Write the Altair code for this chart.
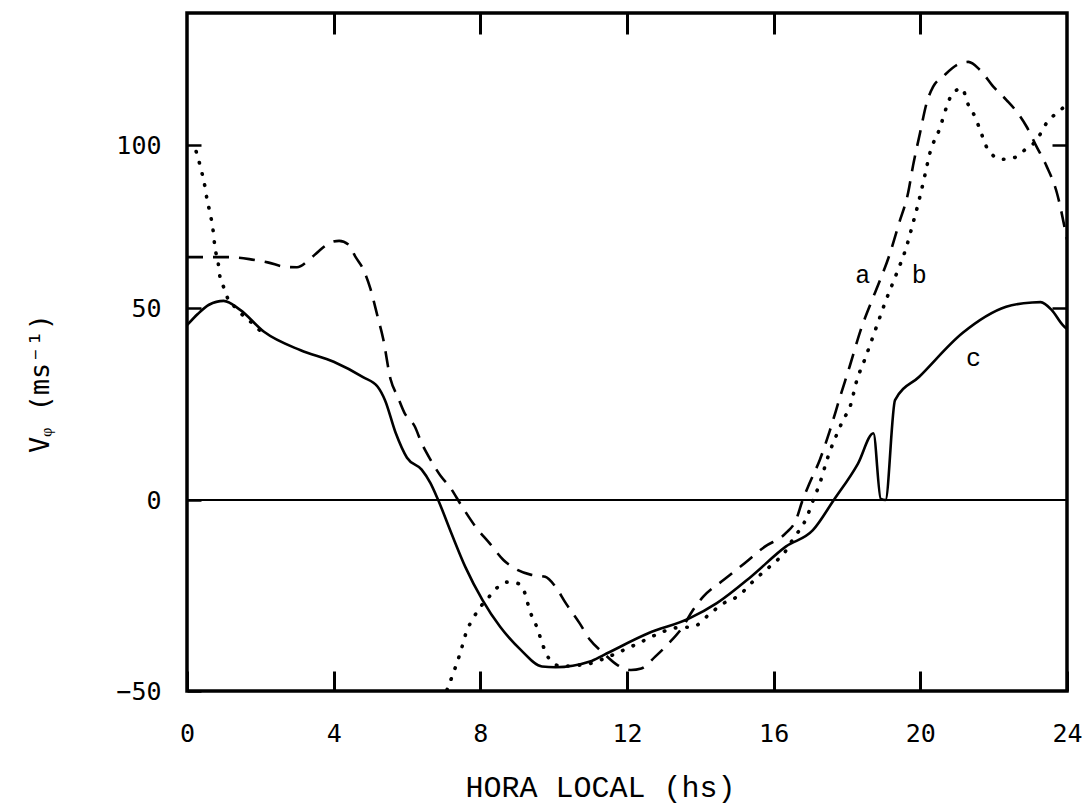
import altair as alt
import pandas as pd

# ---- data ----
# curve c (solid)
hora_c = [0.0, 0.3, 0.6, 1.0, 1.45, 2.1, 3.1, 4.0, 4.8, 5.2, 5.4, 5.69, 6.0, 6.4, 6.64, 6.85,
          7.21, 7.59, 8.06, 8.54, 9.11, 9.68, 10.05, 10.99, 11.36, 12.58, 13.7, 14.45, 15.39,
          16.33, 17.07, 17.64, 18.3, 18.72, 18.92, 19.05, 19.31, 19.97, 21.15, 22.34, 23.05,
          23.28, 23.58, 23.88, 24.0]
v_c = [45.5, 48.5, 51.0, 52.2, 49.5, 43.8, 39.0, 36.0, 32.0, 29.5, 26.0, 17.5, 11.0, 7.9, 4.4, 0.0,
       -8.7, -17.5, -26.2, -33.2, -39.3, -43.6, -43.8, -42.3, -40.6, -34.9, -31.0, -27.0, -20.0,
       -12.2, -7.9, 0.0, 9.5, 17.4, 0.3, 0.0, 26.0, 32.1, 43.5, 50.4, 51.7,
       51.8, 49.5, 45.6, 44.5]

# curve a (dashed)
hora_a = [0.0, 1.1, 1.7, 2.2, 2.7, 3.0, 3.3, 3.6, 3.9, 4.15, 4.4, 4.6, 4.8, 5.0, 5.2, 5.35, 5.55,
          5.75, 5.93, 6.21, 6.4, 6.64, 6.93, 7.16, 7.5, 7.87, 8.25, 8.63, 9.01, 9.39, 9.77,
          10.05, 10.33, 10.71, 10.99, 11.36, 11.74, 12.11, 12.39, 12.77, 13.14, 13.52, 13.8,
          14.08, 14.64, 15.2, 15.76, 16.33, 16.61, 16.79, 16.98, 17.26, 17.53, 17.81, 18.07,
          18.4, 18.65, 18.9, 19.15, 19.42, 19.67, 19.8, 19.99, 20.17, 20.35, 20.62, 20.99,
          21.31, 21.63, 21.99, 22.35, 22.63, 22.9, 23.17, 23.44, 23.72, 24.0]
v_a = [65.6, 65.6, 65.0, 64.0, 62.6, 62.5, 64.5, 67.5, 70.0, 70.6, 69.5, 65.6, 62.0, 56.0, 47.7, 42.0, 31.5,
       26.8, 22.7, 19.2, 14.8, 10.5, 6.1, 3.5, -1.7, -7.0, -11.3, -15.7, -18.3, -19.6, -20.1,
       -22.7, -27.0, -32.3, -36.6, -40.1, -43.2, -44.5, -44.1, -41.0, -37.5, -33.2, -28.8,
       -25.3, -20.9, -16.6, -12.2, -8.7, -5.2, 0.0, 4.4, 10.5, 18.0, 26.8, 34.7,
       45.0, 51.5, 58.5, 66.0, 76.0, 85.5, 93.6, 103.6, 112.8, 117.9, 121.0, 124.5,
       125.5, 123.0, 117.9, 113.8, 110.2, 105.6, 99.5, 93.6, 85.5, 71.0]

# curve b (dotted), two visible pieces
hora_b1 = [0.25, 0.4, 0.49, 0.55, 0.63, 0.71, 0.76, 0.85, 0.9, 1.0, 1.15, 1.35, 1.53, 1.81, 2.05]
v_b1 = [98.0, 91.8, 87.2, 83.1, 79.1, 73.9, 68.8, 63.8, 59.5, 56.4, 52.0, 50.0, 48.0, 45.8, 43.5]
hora_b2 = [7.09, 7.26, 7.45, 7.64, 7.78, 7.97, 8.21, 8.44, 8.73, 9.01, 9.2, 9.35, 9.55, 9.72, 9.91,
           10.2, 10.99, 11.5, 12.2, 12.86, 13.3, 13.8, 14.27, 14.64, 15.01, 15.48, 15.99, 16.28,
           16.51, 16.89, 17.08, 17.26, 17.48, 17.62, 17.75, 17.89, 18.08, 18.27, 18.5, 18.8,
           19.05, 19.35, 19.6, 19.8, 19.99, 20.13, 20.26, 20.53, 20.72, 20.85, 21.13, 21.31,
           21.49, 21.63, 21.85, 22.22, 22.53, 22.85, 23.17, 23.44, 23.76, 24.0]
v_b2 = [-49.7, -45.4, -40.1, -34.0, -31.4, -28.4, -25.7, -23.1, -21.5, -21.8, -24.0, -29.0, -33.5, -38.4, -42.0,
        -43.5, -42.8, -41.0, -38.0, -35.0, -33.5, -33.2, -29.7, -27.0, -25.3, -20.9, -16.6, -14.0,
        -10.5, -4.8, 0.0, 4.4, 11.2, 14.8, 17.7, 20.8, 24.2, 31.2, 37.0, 45.0,
        52.0, 60.5, 68.0, 76.0, 84.2, 91.0, 97.5, 105.1, 111.8, 115.3, 117.4, 112.3,
        108.7, 104.6, 98.5, 95.6, 96.0, 98.5, 101.5, 106.7, 110.2, 112.3]

# curve labels
lab_text = ["a", "b", "c"]
lab_hora = [18.43, 19.97, 21.45]
lab_v = [60.0, 60.0, 37.0]

x_ticks = [0, 4, 8, 12, 16, 20, 24]
y_ticks = [-50, 0, 50, 100]
y_inner_ticks = [50, 100]

df_c = pd.DataFrame({"hora": hora_c, "v": v_c})
df_a = pd.DataFrame({"hora": hora_a, "v": v_a})
df_b = pd.DataFrame({"hora": hora_b1 + hora_b2, "v": v_b1 + v_b2,
                     "seg": [1] * len(hora_b1) + [2] * len(hora_b2)})
df_lab = pd.DataFrame({"hora": lab_hora, "v": lab_v, "t": lab_text})

W, H = 880, 678
xscale = alt.Scale(domain=[0, 24], nice=False, zero=False)
# the printed axis is not evenly spaced: piecewise linear scale through the printed ticks
yscale = alt.Scale(domain=[-50, 0, 50, 100, 140.5], range=[678, 487, 295, 132, 0],
                   zero=False, nice=False)

x_bottom = alt.Axis(values=x_ticks, orient="bottom", offset=-20, tickSize=20, tickWidth=3,
                    tickColor="black", domain=False, grid=False,
                    labelFont="DejaVu Sans Mono", labelFontSize=25, labelColor="black",
                    labelPadding=30, labelFlush=False,
                    title="HORA LOCAL (hs)", titleFont="Liberation Mono", titleFontSize=30,
                    titleFontWeight="normal", titleColor="black", titleX=413, titlePadding=26)
y_left = alt.Axis(values=y_ticks, orient="left", offset=-14, tickSize=14, tickWidth=2.5,
                  tickColor="black", domain=False, grid=False,
                  labelFont="DejaVu Sans Mono", labelFontSize=25, labelColor="black",
                  labelPadding=26, labelFlush=False,
                  title="V\u1d69  (ms\u207b\u00b9)", titleFont="DejaVu Sans Mono", titleFontSize=27,
                  titleFontWeight="normal", titleColor="black", titleAngle=270,
                  titleX=-161, titleY=370, titleAlign="center", titleBaseline="middle")
x_top = alt.Axis(values=x_ticks[1:-1], orient="top", offset=-21, tickSize=21, tickWidth=3,
                 tickColor="black", domain=False, grid=False, labels=False, title=None)
y_right = alt.Axis(values=y_inner_ticks, orient="right", offset=-15, tickSize=15, tickWidth=2.5,
                   tickColor="black", domain=False, grid=False, labels=False, title=None)

solid = alt.Chart(df_c).mark_line(color="black", strokeWidth=2.6, interpolate="monotone", clip=True).encode(
    x=alt.X("hora:Q", scale=xscale, axis=x_bottom),
    y=alt.Y("v:Q", scale=yscale, axis=y_left),
)
dashed = alt.Chart(df_a).mark_line(color="black", strokeWidth=2.6, strokeDash=[16, 10],
                                   interpolate="monotone", clip=True).encode(
    x=alt.X("hora:Q", scale=xscale, axis=x_top),
    y=alt.Y("v:Q", scale=yscale, axis=y_right),
)
dotted = alt.Chart(df_b).mark_line(color="black", strokeWidth=3.6, strokeDash=[0.5, 11],
                                   strokeCap="round", interpolate="monotone", clip=True).encode(
    x=alt.X("hora:Q", scale=xscale, axis=None),
    y=alt.Y("v:Q", scale=yscale, axis=None),
    detail="seg:N",
)
zero = alt.Chart(df_c).mark_rule(color="black", strokeWidth=1.8).encode(
    y=alt.Y(datum=0, scale=yscale, axis=None),
)
labels = alt.Chart(df_lab).mark_text(font="Liberation Mono", fontSize=25, color="black").encode(
    x=alt.X("hora:Q", scale=xscale, axis=None),
    y=alt.Y("v:Q", scale=yscale, axis=None),
    text="t:N",
)

chart = alt.layer(zero, solid, dashed, dotted, labels).resolve_axis(
    x="independent", y="independent"
).properties(
    width=W, height=H,
    padding={"left": 187, "top": 13, "right": 16, "bottom": 120},
    autosize=alt.AutoSizeParams(type="none"),
    background="white",
).configure_view(stroke="black", strokeWidth=3.5).configure_axis(grid=False)

chart.save("out.html", embed_options={"renderer": "svg", "actions": False})
